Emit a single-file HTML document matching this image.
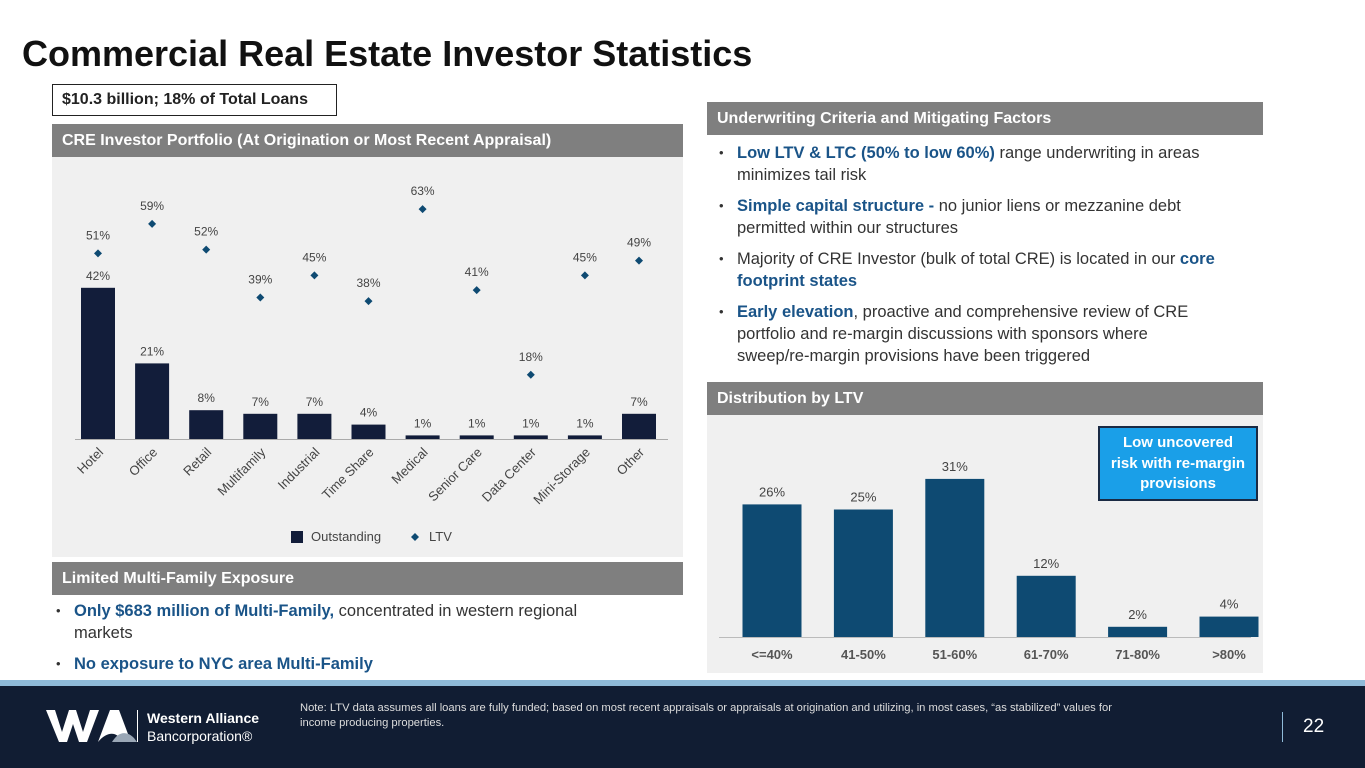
<!DOCTYPE html>
<html><head><meta charset="utf-8"><style>
*{margin:0;padding:0;box-sizing:border-box}
body{width:1365px;height:768px;position:relative;overflow:hidden;background:#fff;font-family:"Liberation Sans",sans-serif;color:#222}
.abs{position:absolute}
.hdr{position:absolute;background:#7f7f7f;color:#fff;font-weight:bold;font-size:16px;padding-left:10px;line-height:33px;height:33px}
.bl{position:absolute;font-size:16.5px;line-height:22px;color:#333;padding-left:16px}
.bl:before{content:"•";position:absolute;left:-2px;font-size:13px}
.b{color:#1a5488;font-weight:bold}
</style></head><body>
<div class="abs" style="left:22px;top:33px;font-size:36px;font-weight:bold;color:#111">Commercial Real Estate Investor Statistics</div>
<div class="abs" style="left:52px;top:84px;width:285px;height:32px;border:1.5px solid #222;font-size:16px;font-weight:bold;line-height:29px;padding-left:9px">$10.3 billion; 18% of Total Loans</div>
<div class="hdr" style="left:52px;top:124px;width:631px">CRE Investor Portfolio (At Origination or Most Recent Appraisal)</div>
<svg class="abs" style="left:52px;top:157px" width="631" height="400" id="c1"></svg>
<div class="hdr" style="left:52px;top:562px;width:631px">Limited Multi-Family Exposure</div>
<div class="bl" style="left:58px;top:600px;width:580px"><span class="b">Only $683 million of Multi-Family,</span> concentrated in western regional markets</div>
<div class="bl" style="left:58px;top:653px;width:600px"><span class="b">No exposure to NYC area Multi-Family</span></div>

<div class="hdr" style="left:707px;top:102px;width:556px">Underwriting Criteria and Mitigating Factors</div>
<div class="bl" style="left:721px;top:142px;width:535px"><span class="b">Low LTV &amp; LTC (50% to low 60%)</span> range underwriting in areas minimizes tail risk</div>
<div class="bl" style="left:721px;top:195px;width:515px"><span class="b">Simple capital structure -</span> no junior liens or mezzanine debt permitted within our structures</div>
<div class="bl" style="left:721px;top:248px;width:545px">Majority of CRE Investor (bulk of total CRE) is located in our <span class="b">core footprint states</span></div>
<div class="bl" style="left:721px;top:301px;width:525px"><span class="b">Early elevation</span>, proactive and comprehensive review of CRE portfolio and re-margin discussions with sponsors where<br>sweep/re-margin provisions have been triggered</div>
<div class="hdr" style="left:707px;top:382px;width:556px">Distribution by LTV</div>
<svg class="abs" style="left:707px;top:415px" width="556" height="258" id="c2"></svg>
<div class="abs" style="left:1098px;top:426px;width:160px;height:75px;background:#1a9fe8;border:2px solid #1a2a44;color:#fff;font-weight:bold;font-size:15px;line-height:20.5px;text-align:center;padding-top:5px">Low uncovered<br>risk with re-margin<br>provisions</div>

<div class="abs" style="left:0;top:680px;width:1365px;height:6px;background:#8fbad8"></div>
<div class="abs" style="left:0;top:686px;width:1365px;height:82px;background:#111d33"></div>
<svg class="abs" style="left:46px;top:708px" width="95" height="36"><path d="M0 2h9l7 22 7-22h7l7 22 7-22h9l-12 32h-8l-6-18-6 18h-8z" fill="#fff"/><path d="M52 34l12-32h9l12 32h-9c-4-10-14-12-24 0z" fill="#fff"/><path d="M66 34c6-10 14-12 22-4l3 4z" fill="#9aa7b6"/></svg>
<div class="abs" style="left:137px;top:710px;width:1px;height:32px;background:#fff"></div>
<div class="abs" style="left:147px;top:709px;color:#fff;font-size:14px;line-height:18px"><b>Western Alliance</b><br>Bancorporation®</div>
<div class="abs" style="left:300px;top:701px;width:930px;color:#ddd;font-size:11.2px;line-height:15px">Note: LTV data assumes all loans are fully funded; based on most recent appraisals or appraisals at origination and utilizing, in most cases, “as stabilized” values for<br>income producing properties.</div>
<div class="abs" style="left:1282px;top:712px;width:1px;height:30px;background:#8fbad8"></div>
<div class="abs" style="left:1303px;top:716px;color:#fff;font-size:19px">22</div>

<script>
const categories=["Hotel","Office","Retail","Multifamily","Industrial","Time Share","Medical","Senior Care","Data Center","Mini-Storage","Other"];
const outstanding=[42,21,8,7,7,4,1,1,1,1,7];
const ltv=[51,59,52,39,45,38,63,41,18,45,49];
const ltvBuckets=["<=40%","41-50%","51-60%","61-70%","71-80%",">80%"];
const ltvShares=[26,25,31,12,2,4];
const NS="http://www.w3.org/2000/svg";
function mk(p,t,a,txt){const e=document.createElementNS(NS,t);for(const k in a)e.setAttribute(k,a[k]);if(txt!=null)e.textContent=txt;p.appendChild(e);return e;}
// chart 1
const c1=document.getElementById('c1');
mk(c1,'rect',{x:0,y:0,width:631,height:400,fill:'#f0f0f0'});
const base1=282;
const x1=i=>46+i*54.1;
const yB=v=>base1-v*3.6;
const yL=v=>284-v*3.68;
mk(c1,'line',{x1:23,x2:616,y1:base1+0.5,y2:base1+0.5,stroke:'#aaa','stroke-width':1});
categories.forEach((c,i)=>{
 const cx=x1(i);
 const r=mk(c1,'rect',{x:cx-17,y:yB(outstanding[i]),width:34,height:outstanding[i]*3.6,fill:'#121d3a'});
 
 
 mk(c1,'text',{x:cx,y:yB(outstanding[i])-8,'text-anchor':'middle','font-size':12,fill:'#444'},outstanding[i]+'%');
 const ly=yL(ltv[i]);
 const d=mk(c1,'path',{d:`M${cx} ${ly-4}L${cx+4} ${ly}L${cx} ${ly+4}L${cx-4} ${ly}Z`,fill:'#0e4a72'});
 
 
 mk(c1,'text',{x:cx,y:ly-14,'text-anchor':'middle','font-size':12,fill:'#444'},ltv[i]+'%');
 mk(c1,'text',{x:cx+6,y:base1+14,'text-anchor':'end','font-size':13,fill:'#444',transform:`rotate(-45 ${cx+6} ${base1+14})`},c);
});
mk(c1,'rect',{x:239,y:374,width:12,height:12,fill:'#121d3a'});
mk(c1,'text',{x:259,y:384,'font-size':13,fill:'#444'},'Outstanding');
mk(c1,'path',{d:'M363 376L367 380L363 384L359 380Z',fill:'#0e4a72'});
mk(c1,'text',{x:377,y:384,'font-size':13,fill:'#444'},'LTV');
// chart 2
const c2=document.getElementById('c2');
mk(c2,'rect',{x:0,y:0,width:556,height:258,fill:'#f0f0f0'});
const base2=222;
const x2=i=>65+i*91.4;
const y2=v=>base2-v*5.1;
ltvBuckets.forEach((b,i)=>{
 const cx=x2(i);
 const r=mk(c2,'rect',{x:cx-29.5,y:y2(ltvShares[i]),width:59,height:ltvShares[i]*5.1,fill:'#0e4a72'});
 
 
 mk(c2,'text',{x:cx,y:y2(ltvShares[i])-8,'text-anchor':'middle','font-size':13,fill:'#444'},ltvShares[i]+'%');
 mk(c2,'text',{x:cx,y:base2+22,'text-anchor':'middle','font-size':13,'font-weight':'bold',fill:'#555'},b);
});
mk(c2,'line',{x1:12,x2:544,y1:base2+0.5,y2:base2+0.5,stroke:'#bbb'});
</script>
</body></html>
